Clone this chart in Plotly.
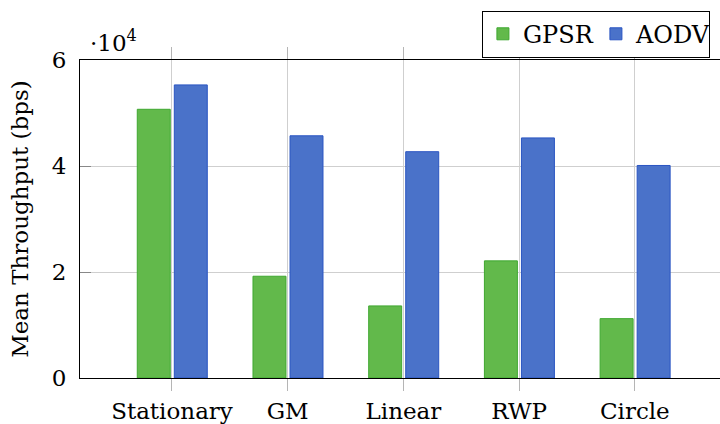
import plotly.graph_objects as go

categories = ["Stationary", "GM", "Linear", "RWP", "Circle"]
gpsr = [50700, 19200, 13600, 22100, 11200]
aodv = [55300, 45700, 42700, 45300, 40100]
y_ticks = [0, 20000, 40000, 60000]
y_tick_labels = ["0", "2", "4", "6"]

FONT = "DejaVu Serif"
FS = 23

x_idx = list(range(len(categories)))

fig = go.Figure()
fig.add_trace(go.Bar(
    x=x_idx, y=gpsr, name="GPSR", width=0.285, offset=-0.30,
    marker=dict(color="#62b94b", line=dict(color="#3fa830", width=1)),
))
fig.add_trace(go.Bar(
    x=x_idx, y=aodv, name="AODV", width=0.285, offset=0.02,
    marker=dict(color="#4a72c9", line=dict(color="#2a55c2", width=1)),
))

fig.update_layout(
    width=720, height=424,
    margin=dict(l=80, r=0, t=60, b=46, autoexpand=False),
    paper_bgcolor="white", plot_bgcolor="white",
    font=dict(family=FONT, size=FS, color="black"),
    barmode="group",
    showlegend=True,
    legend=dict(
        orientation="h", x=0.628, y=1.155, xanchor="left", yanchor="top",
        bordercolor="black", borderwidth=1, bgcolor="white",
        font=dict(family=FONT, size=24), itemwidth=30,
        entrywidth=68, entrywidthmode="pixels",
        tracegroupgap=0,
    ),
    xaxis=dict(
        range=[-0.795, 4.736], tickmode="array", tickvals=x_idx, ticktext=categories,
        showgrid=True, gridcolor="#cfcfcf", gridwidth=1,
        showline=True, linecolor="black", linewidth=1, mirror="ticks",
        ticks="outside", ticklen=12, tickcolor="#b5b5b5", tickwidth=1,
        zeroline=False, ticklabelstandoff=0,
    ),
    yaxis=dict(
        range=[0, 60000], tickmode="array", tickvals=y_ticks, ticktext=y_tick_labels,
        showgrid=True, gridcolor="#cfcfcf", gridwidth=1,
        showline=True, linecolor="black", linewidth=1, mirror=False,
        ticks="inside", ticklen=11, tickcolor="#888888", tickwidth=1,
        zeroline=False, ticklabelstandoff=8,
        title=dict(text="Mean Throughput (bps)", standoff=16, font=dict(family=FONT, size=FS)),
    ),
    annotations=[dict(
        text="·10<sup>4</sup>", xref="paper", yref="paper", x=0.012, y=1.0,
        xanchor="left", yanchor="bottom", showarrow=False, yshift=2,
        font=dict(family=FONT, size=FS),
    )],
)

fig.write_html("out.html", config={"displayModeBar": False},
               post_script="document.body.style.margin='0';document.body.style.padding='0';")
